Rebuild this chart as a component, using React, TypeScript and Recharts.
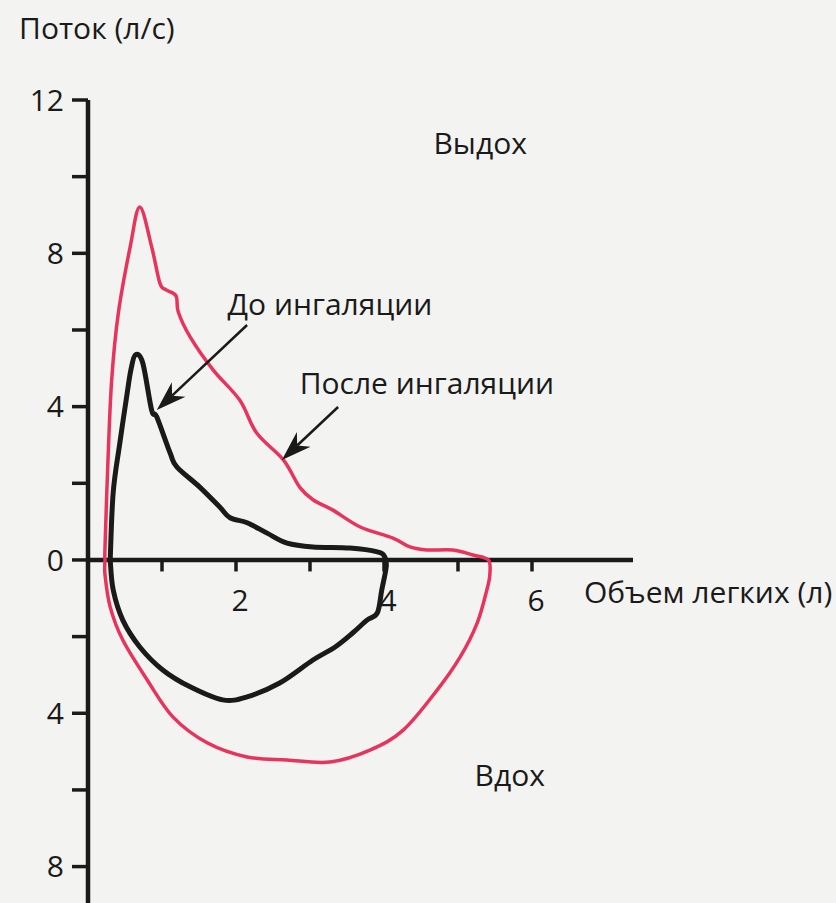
import React from "react";
import { LineChart, Line, XAxis, YAxis, ReferenceLine, ReferenceDot } from "recharts";

// Flow-volume loop before inhalation: volume (l) and flow (l/s), traced clockwise
const BEFORE_VOLUME = [
  0.3, 0.34, 0.43, 0.53, 0.58, 0.64, 0.74, 0.86, 0.93, 1.11, 1.2, 1.51, 1.78, 1.92, 2.15, 2.42, 2.69,
  3.04, 3.54, 3.91, 4.01, 4.03, 3.97, 3.91, 3.77, 3.58, 3.34, 3.04, 2.59, 2.15, 1.82, 1.38, 1.01, 0.7,
  0.47, 0.34, 0.3,
];
const BEFORE_FLOW = [
  0, 1.75, 3.05, 4.36, 4.96, 5.35, 5.14, 3.91, 3.73, 2.79, 2.43, 1.9, 1.38, 1.1, 0.97, 0.7, 0.44,
  0.34, 0.31, 0.21, 0.08, -0.18, -0.78, -1.38, -1.57, -1.9, -2.27, -2.61, -3.21, -3.57, -3.65, -3.31,
  -2.87, -2.27, -1.57, -0.78, 0,
];

// Flow-volume loop after inhalation
const AFTER_VOLUME = [
  0.23, 0.23, 0.27, 0.32, 0.41, 0.57, 0.7, 0.86, 0.97, 1.05, 1.19, 1.22, 1.38, 1.69, 2.05, 2.28, 2.64,
  2.86, 3.04, 3.31, 3.68, 4.12, 4.35, 4.58, 4.93, 5.2, 5.41, 5.43, 5.39, 5.26, 5.03, 4.72, 4.26, 3.81,
  3.27, 2.69, 2.15, 1.61, 1.15, 0.8, 0.47, 0.3, 0.23, 0.23,
];
const AFTER_FLOW = [
  0, 0.34, 2.61, 4.7, 6.44, 8.17, 9.21, 8.17, 7.23, 7.05, 6.89, 6.47, 5.82, 4.96, 4.17, 3.31, 2.61,
  1.9, 1.57, 1.3, 0.86, 0.57, 0.34, 0.26, 0.26, 0.13, 0, -0.39, -0.78, -1.64, -2.53, -3.39, -4.44,
  -4.96, -5.27, -5.22, -5.14, -4.77, -4.1, -3.13, -2.09, -1.23, -0.39, 0,
];

const Y_TICKS = [-8, -6, -4, -2, 0, 2, 4, 6, 8, 10, 12];
const Y_LABELED = [12, 8, 4, 0, -4, -8];
const X_TICKS = [1, 2, 3, 4, 5, 6];
const X_LABELED = [2, 4, 6];

const NOTES = [
  { text: "Поток (л/с)", v: 0.12, f: 13.88 },
  { text: "Выдох", v: 5.3, f: 10.88 },
  { text: "До ингаляции", v: 3.27, f: 6.68 },
  { text: "После ингаляции", v: 4.58, f: 4.64 },
  { text: "Объем легких (л)", v: 8.38, f: -0.83 },
  { text: "Вдох", v: 5.7, f: -5.61 },
];

const ARROWS = [
  { from: { x: 2.15, y: 6.13 }, to: { x: 0.93, y: 3.91 } },
  { from: { x: 3.38, y: 3.99 }, to: { x: 2.62, y: 2.61 } },
];

const INK = "#1a1a1a";
const RED = "#e8335c";
const FONT = "'Open Sans', sans-serif";

const before = BEFORE_VOLUME.map((v, i) => ({ v, f: BEFORE_FLOW[i] }));
const after = AFTER_VOLUME.map((v, i) => ({ v, f: AFTER_FLOW[i] }));

// Catmull-Rom curve that passes through every point; works for closed loops
// where x is not monotonic.
const catmullRom = (context: any) => {
  let pts: [number, number][] = [];
  return {
    areaStart() {},
    areaEnd() {},
    lineStart() {
      pts = [];
    },
    point(x: number, y: number) {
      pts.push([+x, +y]);
    },
    lineEnd() {
      if (!pts.length) return;
      context.moveTo(pts[0][0], pts[0][1]);
      for (let i = 0; i < pts.length - 1; i++) {
        const p0 = pts[i - 1] || pts[i];
        const p1 = pts[i];
        const p2 = pts[i + 1];
        const p3 = pts[i + 2] || p2;
        context.bezierCurveTo(
          p1[0] + (p2[0] - p0[0]) / 6,
          p1[1] + (p2[1] - p0[1]) / 6,
          p2[0] - (p3[0] - p1[0]) / 6,
          p2[1] - (p3[1] - p1[1]) / 6,
          p2[0],
          p2[1]
        );
      }
    },
  };
};

const ArrowShape = (p: any) => {
  const { x1, y1, x2, y2 } = p;
  const dx = x2 - x1;
  const dy = y2 - y1;
  const len = Math.hypot(dx, dy) || 1;
  const ux = dx / len;
  const uy = dy / len;
  const head = 30;
  const half = 10;
  const bx = x2 - ux * head;
  const by = y2 - uy * head;
  const nx = -uy;
  const ny = ux;
  const kx = x2 - ux * head * 0.7;
  const ky = y2 - uy * head * 0.7;
  return (
    <g>
      <line x1={x1} y1={y1} x2={kx} y2={ky} stroke={INK} strokeWidth={2.5} />
      <polygon
        points={`${x2},${y2} ${bx + nx * half},${by + ny * half} ${kx},${ky} ${bx - nx * half},${by - ny * half}`}
        fill={INK}
      />
    </g>
  );
};

const makeTick = (label: string) => (p: any) => (
  <g>
    <line x1={p.x1} y1={p.y1} x2={p.x2} y2={p.y2} stroke={INK} strokeWidth={3.5} />
    {label && (
      <text x={p.x2 + 4} y={p.y2 + 40} textAnchor="middle" fontSize={30} fill={INK} fontFamily={FONT}>
        {label}
      </text>
    )}
  </g>
);

const makeNote = (text: string) => (p: any) => (
  <text
    x={p.cx}
    y={p.cy}
    textAnchor="middle"
    dominantBaseline="central"
    fontSize={30}
    fill={INK}
    fontFamily={FONT}
  >
    {text}
  </text>
);

export default function App() {
  return (
    <div style={{ position: "absolute", top: 0, left: 0, width: 836, height: 903, background: "#f3f3f1" }}>
      <LineChart width={836} height={903} margin={{ top: 100, right: 203, bottom: 0, left: 28 }}>
        <XAxis type="number" dataKey="v" domain={[0, 7.365]} hide allowDataOverflow />
        <YAxis
          type="number"
          dataKey="f"
          domain={[-8.95, 12]}
          ticks={Y_TICKS}
          interval={0}
          allowDataOverflow
          width={60}
          tickSize={16}
          tickMargin={8}
          axisLine={{ stroke: INK, strokeWidth: 4.5 }}
          tickLine={{ stroke: INK, strokeWidth: 3.5 }}
          tick={{ fill: INK, fontSize: 30, fontFamily: FONT }}
          tickFormatter={(t: number) => (Y_LABELED.includes(t) ? String(Math.abs(t)) : "")}
        />
        <ReferenceLine y={0} stroke={INK} strokeWidth={4.5} />
        {X_TICKS.map((t) => (
          <ReferenceLine
            key={t}
            segment={[
              { x: t, y: 0 },
              { x: t, y: -0.3 },
            ]}
            shape={makeTick(X_LABELED.includes(t) ? String(t) : "")}
          />
        ))}
        <Line
          data={before}
          dataKey="f"
          type={catmullRom as any}
          stroke={INK}
          strokeWidth={5}
          strokeLinejoin="round"
          dot={false}
          isAnimationActive={false}
        />
        <Line
          data={after}
          dataKey="f"
          type={catmullRom as any}
          stroke={RED}
          strokeWidth={3.5}
          strokeLinejoin="round"
          dot={false}
          isAnimationActive={false}
        />
        {ARROWS.map((a, i) => (
          <ReferenceLine key={i} segment={[a.from, a.to]} shape={ArrowShape} ifOverflow="visible" />
        ))}
        {NOTES.map((n) => (
          <ReferenceDot key={n.text} x={n.v} y={n.f} r={1} ifOverflow="visible" shape={makeNote(n.text)} />
        ))}
      </LineChart>
    </div>
  );
}
